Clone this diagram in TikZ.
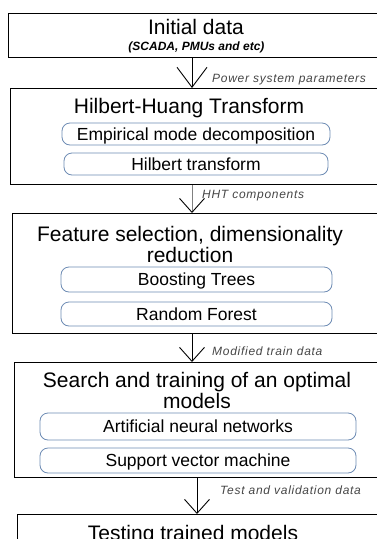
\documentclass[tikz,border=0pt]{standalone}
\usepackage{fontspec}
\setmainfont{Liberation Sans}
\newfontfamily\lblfont[LetterSpace=6]{Liberation Sans}
\usetikzlibrary{arrows.meta}
\definecolor{inborder}{RGB}{110,140,180}
\definecolor{lblgray}{RGB}{70,70,70}
\begin{document}
\begin{tikzpicture}[x=1pt,y=-1pt,
  outerbox/.style={draw=black, line width=1pt, anchor=north west, inner sep=0pt},
  inbox/.style={draw=inborder, line width=0.8pt, rounded corners=8pt, inner sep=0pt,
    text height=12.5pt, text depth=0pt, font=\fontsize{17.5}{18}\selectfont},
  titletext/.style={inner sep=0pt, anchor=base, font=\fontsize{21}{21}\selectfont},
  lbl/.style={inner sep=0pt, anchor=base west, text=lblgray, font=\lblfont\itshape\fontsize{12}{12}\selectfont},
  bigarr/.style={line width=0.9pt, -{Straight Barb[length=20pt,width=30pt,line width=0.9pt]}},
  arr/.style={line width=0.9pt, -{Straight Barb[length=14pt,width=25pt,line width=0.9pt,color=black]}}]
\fill[white] (0,0) rectangle (377,539);
\useasboundingbox (0,0) rectangle (377,539);
\clip (0,0) rectangle (377,539);

% box 1
\node[outerbox, minimum width=390pt, minimum height=44pt] (b1) at (8,13) {};
\node[titletext] (t1) at (196,34) {Initial data};
\node[inner sep=0pt, anchor=base, font=\fontsize{12}{12}\selectfont\bfseries\itshape] (t1s) at (196.5,50) {(SCADA, PMUs and etc)};

% box 2
\node[outerbox, minimum width=390pt, minimum height=96pt] (b2) at (10,88) {};
\node[titletext] (t2) at (189,113) {Hilbert-Huang Transform};
\node[inbox, minimum width=268pt, minimum height=22pt] (i1) at (196,134) {Empirical mode decomposition};
\node[inbox, minimum width=264pt, minimum height=22pt] (i2) at (196,164) {Hilbert transform};

\coordinate (ax1) at (192,0);
\draw[bigarr] (b1.south -| ax1) -- (b2.north -| ax1);
\node[lbl] (l1) at (212,82) {Power system parameters};

% box 3
\node[outerbox, minimum width=390pt, minimum height=120pt] (b3) at (12,213) {};
\node[titletext, align=center, font=\fontsize{21}{20.5}\selectfont] (t3) at (190,262) {Feature selection, dimensionality\\reduction};
\node[inbox, minimum width=271pt, minimum height=25pt] (i3) at (196.5,279.5) {Boosting Trees};
\node[inbox, minimum width=271pt, minimum height=24pt] (i4) at (196.5,314) {Random Forest};

\coordinate (ax2) at (192,0);
\draw[arr, draw=gray] (b2.south -| ax2) -- (b3.north -| ax2);
\node[lbl] (l2) at (202,198) {HHT components};

% box 4
\node[outerbox, minimum width=390pt, minimum height=115pt] (b4) at (14,362) {};
\node[titletext, align=center, font=\fontsize{21}{21}\selectfont] (t4) at (197,408) {Search and training of an optimal\\models};
\node[inbox, minimum width=316pt, minimum height=27pt] (i5) at (198,426.5) {Artificial neural networks};
\node[inbox, minimum width=316pt, minimum height=25pt] (i6) at (198,460.5) {Support vector machine};

\coordinate (ax3) at (192,0);
\draw[arr] (b3.south -| ax3) -- (b4.north -| ax3);
\node[lbl] (l3) at (212,355) {Modified train data};

% box 5
\node[outerbox, minimum width=390pt, minimum height=60pt] (b5) at (17,514) {};
\node[titletext] (t5) at (193,540) {Testing trained models};

\coordinate (ax4) at (197,0);
\draw[arr] (b4.south -| ax4) -- (b5.north -| ax4);
\node[lbl] (l4) at (220,494) {Test and validation data};
\end{tikzpicture}
\end{document}
